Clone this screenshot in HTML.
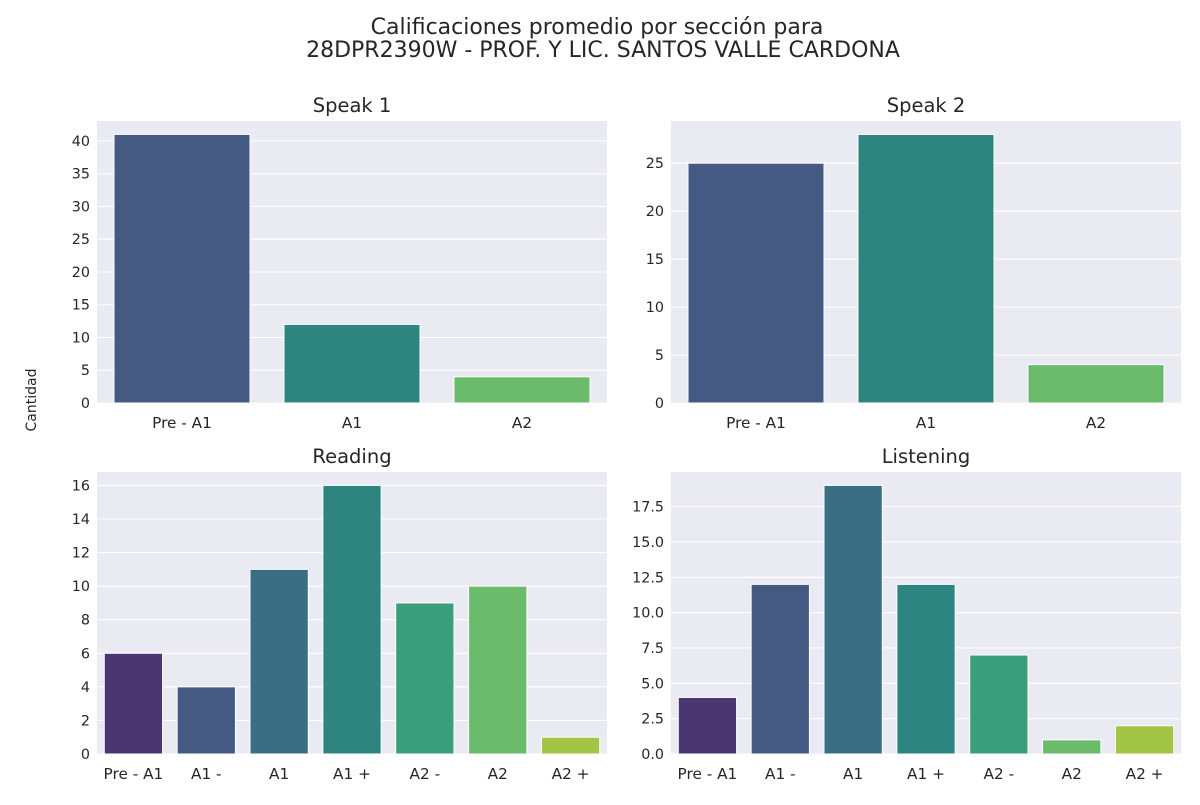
<!DOCTYPE html>
<html><head><meta charset="utf-8"><style>
body{margin:0;background:#fff;font-family:"Liberation Sans","DejaVu Sans",sans-serif;}
svg text{font-family:"DejaVu Sans","Liberation Sans",sans-serif;fill:#262626;}
</style></head><body>
<svg id="c" width="1200" height="800">
<text x="597" y="34" font-size="22" text-anchor="middle">Calificaciones promedio por sección para</text>
<text x="603" y="57" font-size="22" text-anchor="middle">28DPR2390W - PROF. Y LIC. SANTOS VALLE CARDONA</text>
<text x="36" y="400" font-size="14" text-anchor="middle" transform="rotate(-90 36 400)">Cantidad</text>
</svg>
<script>
const cats3 = ["Pre - A1","A1","A2"];
const cats7 = ["Pre - A1","A1 -","A1","A1 +","A2 -","A2","A2 +"];
const speak1 = [41,12,4];
const speak2 = [25,28,4];
const reading = [6,4,11,16,9,10,1];
const listening = [4,12,19,12,7,1,2];
const ticksS1 = [0,5,10,15,20,25,30,35,40];
const ticksS2 = [0,5,10,15,20,25];
const ticksR = [0,2,4,6,8,10,12,14,16];
const ticksL = [0,2.5,5,7.5,10,12.5,15,17.5];
const pal3 = ["#455a82","#2e8580","#6abb6b"];
const pal7 = ["#4a3671","#455a82","#3a6e84","#2e8580","#3a9e7c","#6abb6b","#a2c546"];
const NS="http://www.w3.org/2000/svg";
const svg=document.getElementById('c');
function mk(t,a,p){const e=document.createElementNS(NS,t);for(const k in a)e.setAttribute(k,a[k]);(p||svg).appendChild(e);return e;}
function panel(name,title,x0,y0,w,h,cats,vals,ticks,pal,fmt){
  const g=mk('g',{});
  
  
  const ymax=Math.max(...vals)*1.05;
  const ys=v=>y0+h-v/ymax*h;
  const bw=w/cats.length;
  const xs=i=>x0+bw*(i+0.5);
  const bg=mk('rect',{x:x0,y:y0,width:w,height:h,fill:'#eaeaf2'},g);
  
  
  ticks.forEach(t=>{
    const y=ys(t);
    mk('line',{x1:x0,x2:x0+w,y1:y,y2:y,stroke:'#fff','stroke-width':1.1},g);
    const tx=mk('text',{x:x0-7,y:y+5,'font-size':14.3,'text-anchor':'end'},g);
    tx.textContent=fmt(t);
    
    
  });
  cats.forEach((c,i)=>{
    const x=xs(i);
    const r=mk('rect',{x:x-bw*0.4,y:ys(vals[i]),width:bw*0.8,height:y0+h-ys(vals[i]),fill:pal[i],stroke:'#fff','stroke-width':1},g);
    
    
    const tx=mk('text',{x:x,y:y0+h+25,'font-size':15.3,'text-anchor':'middle'},g);
    tx.textContent=c;
    
    
  });
  const t=mk('text',{x:x0+w/2,y:y0-9,'font-size':19.5,'text-anchor':'middle'},g);
  t.textContent=title;
  
  
}
const f0=v=>String(v), f1=v=>v.toFixed(1);
panel('speak-1','Speak 1',97,121,510,282,cats3,speak1,ticksS1,pal3,f0);
panel('speak-2','Speak 2',671,121,510,282,cats3,speak2,ticksS2,pal3,f0);
panel('reading','Reading',97,472,510,282,cats7,reading,ticksR,pal7,f0);
panel('listening','Listening',671,472,510,282,cats7,listening,ticksL,pal7,f1);
</script>
</body></html>
